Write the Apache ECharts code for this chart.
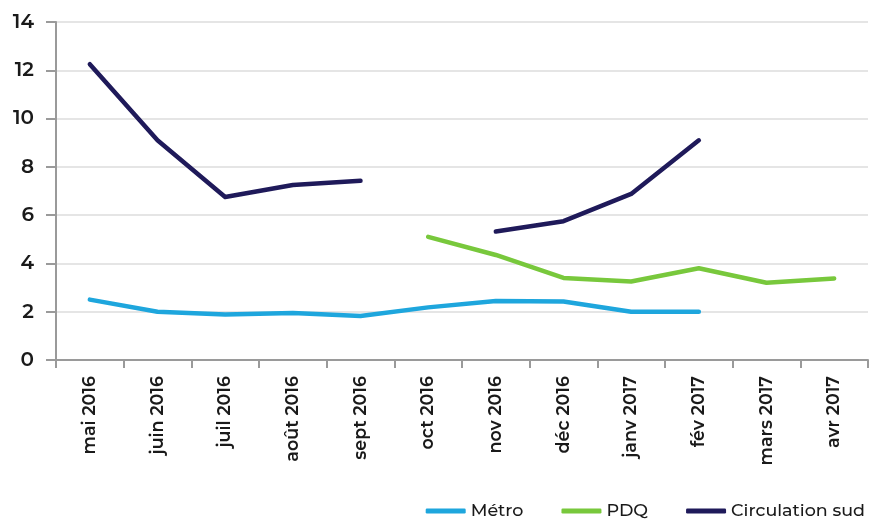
<!DOCTYPE html>
<html>
<head>
<meta charset="utf-8">
<script src="https://cdn.jsdelivr.net/npm/echarts@6/dist/echarts.min.js"></script>
<style>
  html, body { margin: 0; padding: 0; background: #fff; }
  #chart { width: 870px; height: 521px; }
</style>
</head>
<body>
<div id="chart"></div>
<script>
// Monthly categories
const months = ['mai 2016', 'juin 2016', 'juil 2016', 'août 2016', 'sept 2016', 'oct 2016',
                'nov 2016', 'déc 2016', 'janv 2017', 'fév 2017', 'mars 2017', 'avr 2017'];

// Series values (null = no data for that month)
const metro = [2.5, 2.0, 1.88, 1.95, 1.82, 2.18, 2.44, 2.42, 2.0, 2.0, null, null];
const pdq = [null, null, null, null, null, 5.1, 4.35, 3.4, 3.25, 3.8, 3.2, 3.38];
const circulationSud = [12.25, 9.1, 6.75, 7.25, 7.42, null, 5.32, 5.75, 6.88, 9.1, null, null];

const yTicks = { min: 0, max: 14, interval: 2 };

const textColor = '#1a1a1a';
const fontFamily = 'Montserrat, "Noto Sans", Lato, sans-serif';

const chart = echarts.init(document.getElementById('chart'));

function lineSeries(name, data, color) {
  return {
    name: name,
    type: 'line',
    data: data,
    symbol: 'none',
    connectNulls: false,
    lineStyle: { color: color, width: 4.5, cap: 'round', join: 'round' },
    itemStyle: { color: color },
    emphasis: { disabled: true }
  };
}

chart.setOption({
  animation: false,
  textStyle: { fontFamily: fontFamily, color: textColor },
  grid: { left: 56, right: 2, top: 22, bottom: 161, containLabel: false },
  legend: {
    right: 0,
    bottom: -4,
    icon: 'roundRect',
    itemWidth: 40,
    itemHeight: 5,
    itemGap: 38,
    textStyle: { fontSize: 17.5, fontWeight: 500, color: textColor, fontFamily: fontFamily },
    data: ['Métro', 'PDQ', 'Circulation sud']
  },
  xAxis: {
    type: 'category',
    data: months,
    boundaryGap: true,
    axisLine: { lineStyle: { color: '#9a9a9a', width: 2 } },
    axisTick: { show: true, length: 8, lineStyle: { color: '#9a9a9a', width: 2 } },
    axisLabel: {
      rotate: 90,
      interval: 0,
      fontSize: 17.5,
      fontWeight: 600,
      color: textColor,
      margin: 16,
      fontFamily: fontFamily
    },
    splitLine: { show: false }
  },
  yAxis: {
    type: 'value',
    min: yTicks.min,
    max: yTicks.max,
    interval: yTicks.interval,
    axisLine: { show: true, lineStyle: { color: '#9a9a9a', width: 2 } },
    axisTick: { show: true, length: 10, lineStyle: { color: '#9a9a9a', width: 2 } },
    axisLabel: { fontSize: 20, fontWeight: 600, color: textColor, margin: 22, fontFamily: fontFamily },
    splitLine: { show: true, lineStyle: { color: '#dcdcdc', width: 1.5 } }
  },
  series: [
    lineSeries('Métro', metro, '#1ea6dd'),
    lineSeries('PDQ', pdq, '#78c83c'),
    lineSeries('Circulation sud', circulationSud, '#1f1a5a')
  ]
});
</script>
</body>
</html>
